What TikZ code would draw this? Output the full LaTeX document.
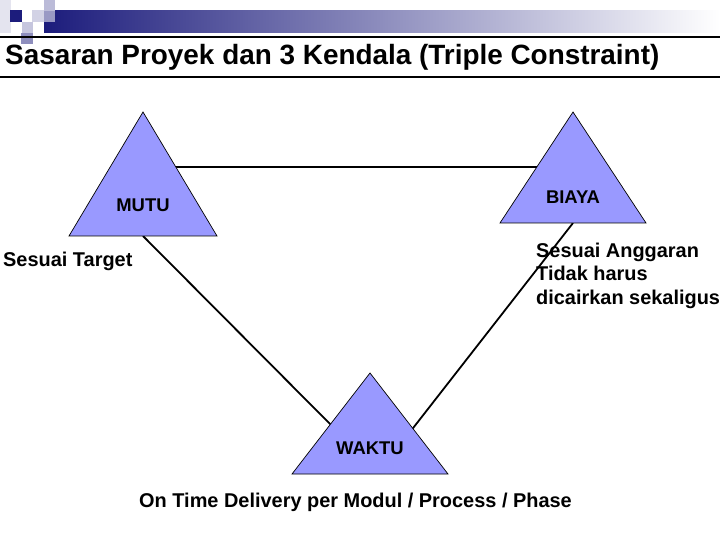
\documentclass[tikz,border=0pt]{standalone}
\usepackage{fontspec}
\setmainfont{Liberation Sans}
\begin{document}
\begin{tikzpicture}[x=1bp,y=-1bp,
  tri/.style={fill=triblue,draw=black,line width=0.7bp,line join=miter},
  link/.style={draw=black,line width=1.8bp},
  lbl/.style={font=\bfseries\fontsize{18.5}{20}\selectfont,inner sep=0pt},
  txt/.style={font=\bfseries\fontsize{20}{23.5}\selectfont,inner sep=0pt,align=left}]
\definecolor{triblue}{HTML}{9999FF}
\definecolor{navy}{HTML}{1C1C7C}
\useasboundingbox (0,0) rectangle (720,540);
% header decoration
\fill[navy!12] (0,0) rectangle (11,33);
\fill[left color=navy,right color=white] (44,11) rectangle (720,33);
\fill[navy] (10,10) rectangle (22,22);
\fill[navy!25] (22,22) rectangle (33,33);
\fill[navy!20] (32,10) rectangle (44,22);
\fill[navy!30] (44,0) rectangle (55,11);
\fill[navy!45] (44,11) rectangle (55,22);
\fill[navy!50] (21,33) rectangle (33,44);
\draw[line width=1.3bp] (0,37) -- (720,37);
\draw[line width=1.3bp] (0,77) -- (720,77);
\node[anchor=base west,inner sep=0pt,font=\bfseries\fontsize{28}{30}\selectfont] (title) at (5,65) {Sasaran Proyek dan 3 Kendala (Triple Constraint)};
% anchor coordinates
\coordinate (mutuA) at (143,112);
\coordinate (mutuL) at (69,236);
\coordinate (mutuR) at (217,236);
\coordinate (biayaA) at (573,112);
\coordinate (biayaL) at (500,223);
\coordinate (biayaR) at (646,223);
\coordinate (waktuA) at (370,373);
\coordinate (waktuL) at (292,474);
\coordinate (waktuR) at (448,474);
\coordinate (h1) at (143,167);
\coordinate (h2) at (573,167);
\coordinate (mb) at (143,236);
\coordinate (bb) at (573,223);
\coordinate (wl) at (335,429);
\coordinate (wr) at (410,432);
% connectors
\draw[link] (h1) -- (h2);
\draw[link] (mb) -- (wl);
\draw[link] (bb) -- (wr);
% triangles
\draw[tri] (mutuA) -- (mutuR) -- (mutuL) -- cycle;
\draw[tri] (biayaA) -- (biayaR) -- (biayaL) -- cycle;
\draw[tri] (waktuA) -- (waktuR) -- (waktuL) -- cycle;
\node[lbl] (mutu) at (143,205) {MUTU};
\node[lbl] (biaya) at (573,197) {BIAYA};
\node[lbl] (waktu) at (370,448) {WAKTU};
% texts
\node[txt,anchor=base west] (target) at (3,267) {Sesuai Target};
\node[txt,anchor=base west] (anggaran) at (536,304) {Sesuai Anggaran\\Tidak harus\\dicairkan sekaligus};
\node[txt,anchor=base] (delivery) at (355.5,507) {On Time Delivery per Modul / Process / Phase};
\end{tikzpicture}
\end{document}
